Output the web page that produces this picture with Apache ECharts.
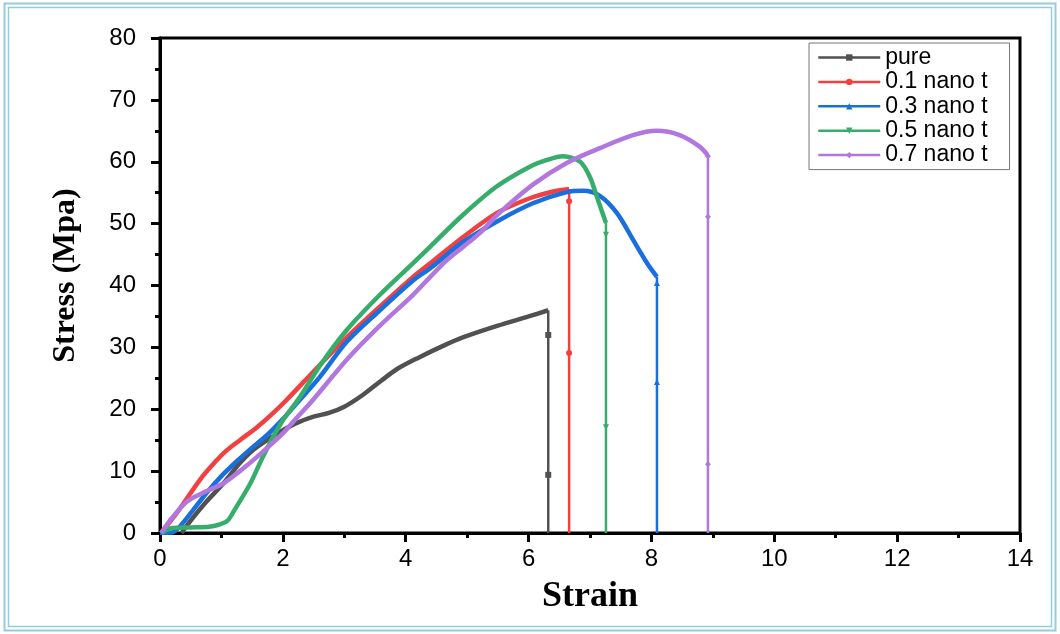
<!DOCTYPE html>
<html><head><meta charset="utf-8">
<script src="https://cdn.jsdelivr.net/npm/echarts@6/dist/echarts.min.js"></script>
<style>html,body{margin:0;padding:0;background:#fff}#c{width:1060px;height:634px}</style>
</head><body><div id="c"></div>
<script>
// ---- data (strain, stress in MPa) ----
const seriesNames = ['pure', '0.1 nano t', '0.3 nano t', '0.5 nano t', '0.7 nano t'];
const xTickValues = [0, 2, 4, 6, 8, 10, 12, 14];
const yTickValues = [0, 10, 20, 30, 40, 50, 60, 70, 80];

const pureCurve = [[0.35,0],[0.5,2],[0.75,5],[1.03,8],[1.3,11.3],[1.5,13.3],[1.74,15],[2.0,16.6],[2.23,17.8],[2.5,18.8],[2.75,19.4],[3.0,20.4],[3.3,22.3],[3.6,24.6],[3.86,26.5],[4.2,28.3],[4.6,30.2],[4.93,31.6],[5.5,33.5],[6.0,35.0],[6.32,36.0]];
const pureDropMarks = [32, 9.4];

const nano01Curve = [[0.02,0],[0.3,3.6],[0.65,8.6],[0.9,11.5],[1.09,13.4],[1.3,15],[1.58,17.1],[1.8,19],[2.06,21.5],[2.5,26.1],[3.04,31.6],[3.58,36.6],[4.12,41.4],[4.4,43.6],[4.93,47.8],[5.48,51.7],[6.02,54.1],[6.4,55.2],[6.66,55.6]];
const nano01DropMarks = [53.6, 29.1];

const nano03Curve = [[0.0,0],[0.2,0.1],[0.3,0.8],[0.5,3.2],[0.76,6.5],[1.0,9.2],[1.25,11.6],[1.5,13.8],[1.74,15.8],[2.0,18.4],[2.23,21],[2.6,25.2],[3.04,30.9],[3.58,36],[4.12,40.8],[4.4,42.8],[4.93,47],[5.53,50.6],[6.07,53.3],[6.62,55.1],[6.89,55.3],[7.16,54.5],[7.44,51.7],[7.7,47.4],[7.93,43.6],[8.09,41.4]];
const nano03DropMarks = [40.4, 24.4];

const nano05Curve = [[0.02,0],[0.2,0.8],[0.5,0.9],[0.8,1.0],[0.95,1.3],[1.1,2.0],[1.2,3.5],[1.47,8],[1.65,11.8],[1.84,15.5],[2.0,18.2],[2.28,22],[2.6,27],[3.04,32.8],[3.58,38.5],[4.12,43.6],[4.4,46.3],[4.93,51.4],[5.48,56],[6.02,59.2],[6.3,60.3],[6.56,60.9],[6.84,60],[7.0,57.5],[7.13,53.8],[7.26,50.1]];
const nano05DropMarks = [48.2, 17.1];

const nano07Curve = [[0.02,0],[0.2,2.5],[0.44,5.1],[0.7,6.5],[1.03,8],[1.3,10],[1.58,12.3],[2.0,16.1],[2.17,18],[2.49,21.5],[3.04,28],[3.58,33.5],[4.12,38.5],[4.4,41.4],[4.67,44.1],[4.93,46.2],[5.21,48.5],[5.5,51.5],[6.07,56.3],[6.62,59.8],[7.16,62.2],[7.7,64.3],[8.09,65],[8.46,64.3],[8.79,62.4],[8.92,61]];
const nano07DropMarks = [60.9, 51.1, 11.1];

// ---- styles ----
const colors = ['#515151', '#F14040', '#1A6FDF', '#37AD6B', '#B177DE'];
const symbols = ['rect', 'circle', 'triangle', 'path://M0,0 L10,0 L5,9 Z', 'diamond'];
const curves = [pureCurve, nano01Curve, nano03Curve, nano05Curve, nano07Curve];
const drops = [pureDropMarks, nano01DropMarks, nano03DropMarks, nano05DropMarks, nano07DropMarks];

const series = [];
curves.forEach((c, i) => {
  series.push({
    type: 'line', name: seriesNames[i],
    data: c.map(p => ({ value: p, symbol: 'none' })),
    symbol: symbols[i], symbolSize: 6, showSymbol: true, showAllSymbol: true,
    smooth: 0.3,
    lineStyle: { width: 4.5, color: colors[i] },
    itemStyle: { color: colors[i] },
    z: 2 + i, animation: false
  });
  const end = c[c.length - 1];
  const dropData = [{ value: end, symbol: 'none' }]
    .concat(drops[i].map(v => ({ value: [end[0], v] })))
    .concat([{ value: [end[0], 0], symbol: 'none' }]);
  series.push({
    type: 'line', name: seriesNames[i],
    data: dropData,
    symbol: symbols[i], symbolSize: 6, showSymbol: true, showAllSymbol: true,
    lineStyle: { width: 2.5, color: colors[i] },
    itemStyle: { color: colors[i] },
    z: 2 + i, animation: false
  });
});

const axisFont = 'Liberation Sans, Arial, sans-serif';
const chart = echarts.init(document.getElementById('c'), null, { renderer: 'canvas' });
chart.setOption({
  backgroundColor: '#fff',
  animation: false,
  grid: { left: 160, right: 40, top: 38, bottom: 101, show: true, borderColor: '#000', borderWidth: 3, backgroundColor: 'transparent' },
  xAxis: {
    type: 'value', min: xTickValues[0], max: xTickValues[xTickValues.length - 1], interval: 2,
    name: 'Strain', nameLocation: 'middle', nameGap: 46,
    nameTextStyle: { fontFamily: 'Liberation Serif, Times New Roman, serif', fontWeight: 'bold', fontSize: 36, color: '#000' },
    axisLine: { lineStyle: { color: '#000', width: 3 } },
    axisTick: { show: true, length: 9, lineStyle: { color: '#000', width: 3 } },
    minorTick: { show: true, splitNumber: 2, length: 5, lineStyle: { color: '#000', width: 3 } },
    splitLine: { show: false },
    axisLabel: { fontSize: 24, color: '#000', fontFamily: axisFont, margin: 14 }
  },
  yAxis: {
    type: 'value', min: yTickValues[0], max: yTickValues[yTickValues.length - 1], interval: 10,
    name: 'Stress (Mpa)', nameLocation: 'middle', nameGap: 78, nameRotate: 90,
    nameTextStyle: { fontFamily: 'Liberation Serif, Times New Roman, serif', fontWeight: 'bold', fontSize: 32, color: '#000', padding: [0, 0, 0, 20] },
    axisLine: { lineStyle: { color: '#000', width: 3 } },
    axisTick: { show: true, length: 9, lineStyle: { color: '#000', width: 3 } },
    minorTick: { show: true, splitNumber: 2, length: 5, lineStyle: { color: '#000', width: 3 } },
    splitLine: { show: false },
    axisLabel: { fontSize: 24, color: '#000', fontFamily: axisFont, margin: 24 }
  },
  legend: {
    data: seriesNames, orient: 'vertical', left: 809, top: 43, align: 'left',
    padding: [3, 22, 3, 8], itemGap: 1.4, itemWidth: 62, itemHeight: 8,
    backgroundColor: '#fff', borderColor: '#777', borderWidth: 1,
    lineStyle: { width: 2.5 },
    textStyle: { fontSize: 23, lineHeight: 22, color: '#000', fontFamily: axisFont }
  },
  graphic: [
    { type: 'rect', shape: { x: 4.5, y: 3.5, width: 1051, height: 627 }, style: { fill: null, stroke: '#93cddb', lineWidth: 2 }, silent: true },
    { type: 'rect', shape: { x: 8.5, y: 7.5, width: 1043, height: 619 }, style: { fill: null, stroke: '#93cddb', lineWidth: 1.5 }, silent: true }
  ],
  series: series
});
</script></body></html>
